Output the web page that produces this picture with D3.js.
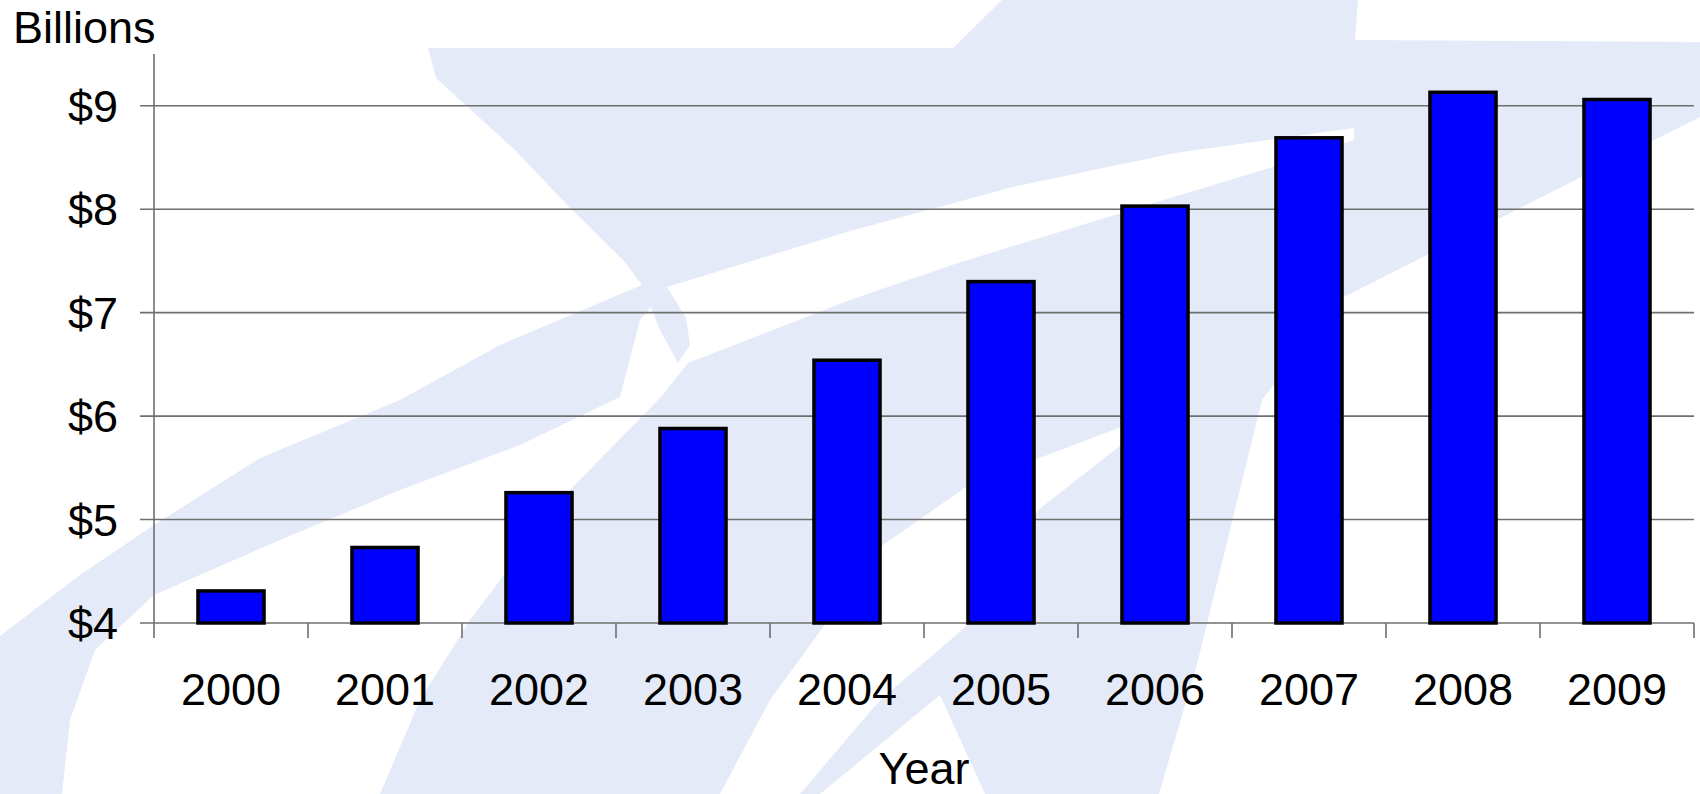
<!DOCTYPE html>
<html>
<head>
<meta charset="utf-8">
<script src="https://cdn.jsdelivr.net/npm/d3@7"></script>
<style>
  html, body { margin: 0; padding: 0; background: #fff; }
  svg { display: block; }
  text { font-family: "Liberation Sans", Arial, sans-serif; fill: #000; }
</style>
</head>
<body>
<svg id="chart" width="1700" height="794"></svg>
<script>
// data
var years = ["2000", "2001", "2002", "2003", "2004", "2005", "2006", "2007", "2008", "2009"];
var billions = [4.31, 4.73, 5.26, 5.88, 6.54, 7.30, 8.03, 8.69, 9.13, 9.06];
var yTicks = [4, 5, 6, 7, 8, 9];

var plotLeft = 154, plotRight = 1694, plotBottom = 623, plotTop = 54;
var svg = d3.select("#chart");

// faint watermark logo behind the chart
var wm = svg.append("g").attr("class", "watermark");
var shape = d3.line().curve(d3.curveLinearClosed);
var blue = "#e5eaf8";

wm.append("path").attr("fill", blue).attr("d", shape([
  [428, 48], [953, 48], [1002, 0], [1358, 0], [1355, 40], [1700, 42], [1700, 117],
  [1338, 300], [1262, 400], [1230, 530], [1197, 664], [1159, 794], [0, 794], [0, 636],
  [80, 575], [154, 525], [260, 458], [400, 400], [500, 345], [642, 285], [623, 260], [569, 207],
  [515, 150], [462, 102], [436, 78]
]));
// white swoosh
wm.append("path").attr("fill", "#fff").attr("d", shape([
  [1354, 128], [1175, 153], [1013, 187], [850, 231], [667, 287], [640, 320], [620, 397],
  [520, 445], [400, 490], [280, 540], [154, 595], [95, 650], [70, 720], [62, 794], [380, 794],
  [420, 700], [470, 620], [560, 500], [661, 397], [688, 363], [850, 300], [958, 263],
  [1121, 213], [1273, 167], [1354, 140]
]));
// tail of the logo crossing the swoosh
wm.append("path").attr("fill", blue).attr("d", shape([
  [642, 285], [667, 287], [686, 318], [690, 345], [678, 363], [660, 330]
]));
// thin white streak
wm.append("path").attr("fill", "#fff").attr("d", shape([
  [720, 794], [770, 700], [883, 545], [969, 485], [1121, 427], [1185, 402],
  [1121, 445], [1000, 540], [969, 624], [880, 700], [800, 794]
]));
// white wedge behind the axis title
wm.append("path").attr("fill", "#fff").attr("d", shape([
  [940, 695], [985, 794], [820, 794]
]));

var x = d3.scaleBand().domain(years).range([plotLeft, plotRight]).paddingInner(0.571).paddingOuter(0.2855);
var xEdge = d3.scaleBand().domain(years).range([plotLeft, plotRight]).padding(0);
var y = d3.scaleLinear().domain([4, 9.5]).range([plotBottom, plotTop]);

// gridlines with the left ticks
svg.append("g").selectAll("line").data(yTicks).join("line")
  .attr("x1", plotLeft - 14).attr("x2", plotRight)
  .attr("y1", d => y(d)).attr("y2", d => y(d))
  .attr("stroke", "#6f6f6f").attr("stroke-width", 1.6);

// y axis line
svg.append("line").attr("x1", plotLeft).attr("x2", plotLeft)
  .attr("y1", plotTop).attr("y2", plotBottom + 15)
  .attr("stroke", "#6f6f6f").attr("stroke-width", 1.6);

// x category ticks
var edges = years.map(d => xEdge(d) + xEdge.bandwidth());
svg.append("g").selectAll("line").data(edges).join("line")
  .attr("x1", d => d).attr("x2", d => d).attr("y1", plotBottom).attr("y2", plotBottom + 15)
  .attr("stroke", "#6f6f6f").attr("stroke-width", 1.6);

// bars
svg.append("g").selectAll("rect").data(billions).join("rect")
  .attr("x", (d, i) => x(years[i]))
  .attr("width", x.bandwidth())
  .attr("y", d => y(d))
  .attr("height", d => y(4) - y(d))
  .attr("fill", "#0000ff").attr("stroke", "#000").attr("stroke-width", 3.5);

// y tick labels
svg.append("g").selectAll("text").data(yTicks).join("text")
  .attr("x", 118).attr("y", d => y(d)).attr("dy", "0.36em")
  .attr("text-anchor", "end").attr("font-size", 45)
  .text(d => "$" + d);

// x labels
svg.append("g").selectAll("text").data(years).join("text")
  .attr("x", d => xEdge(d) + xEdge.bandwidth() / 2).attr("y", 705)
  .attr("text-anchor", "middle").attr("font-size", 45)
  .text(d => d);

svg.append("text").attr("x", 13).attr("y", 43).attr("font-size", 45).text("Billions");
svg.append("text").attr("x", (plotLeft + plotRight) / 2).attr("y", 784)
  .attr("text-anchor", "middle").attr("font-size", 45).text("Year");
</script>
</body>
</html>
